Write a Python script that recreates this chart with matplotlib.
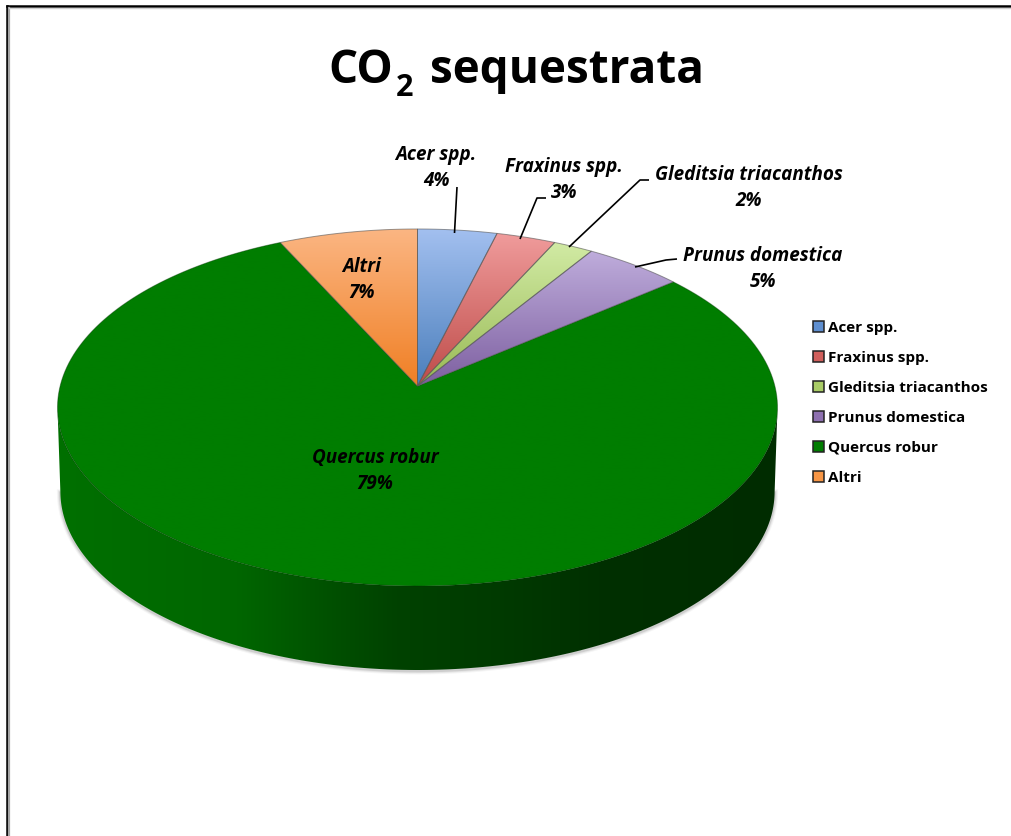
import numpy as np
import matplotlib
matplotlib.use('Agg')
import matplotlib.pyplot as plt
from matplotlib.colors import LinearSegmentedColormap
from matplotlib.patches import Polygon, Rectangle

plt.rcParams['font.family'] = ['Open Sans', 'DejaVu Sans']

# dati del grafico
species = ['Acer spp.', 'Fraxinus spp.', 'Gleditsia triacanthos',
           'Prunus domestica', 'Quercus robur', 'Altri']
percent = [4, 3, 2, 5, 79, 7]
wedge_light = ['#A3C0F0', '#F09C9C', '#D2EBA5', '#BFADDC', '#007D00', '#FBB683']
wedge_dark = ['#4A7EBB', '#BE4B48', '#98B954', '#7D5FA0', '#007D00', '#F07F24']
legend_colors = ['#5F8FD0', '#D05F5C', '#A9CC66', '#8E70B0', '#007D00', '#F79646']

W, H = 1012, 837
fig = plt.figure(figsize=(W / 100, H / 100), dpi=100, facecolor='white')
ax = fig.add_axes([0, 0, 1, 1])
ax.set_xlim(0, W)
ax.set_ylim(H, 0)
ax.axis('off')

# disco in prospettiva
CX, AY, TOP, BOT = 417.5, 387.0, 230.0, 587.0
DEPTH = 84.0
C = (TOP + BOT - 2 * AY) / (BOT - TOP)
A = TOP * (1 + C) - AY
RX = 360.0 * np.sqrt(1 - C ** 2)


def project(theta):
    den = 1 + C * np.cos(theta)
    return CX + RX * np.sin(theta) / den, (A * np.cos(theta) + AY) / den


def wedge_path(t0, t1):
    t = np.linspace(t0, t1, 200)
    x, y = project(t)
    return np.r_[CX, x], np.r_[AY, y]


def fill_gradient(xs, ys, cmap, horizontal=False, z=2, edge='#55555599'):
    # gradiente ritagliato sul poligono
    ext = [xs.min() - 1, xs.max() + 1, ys.max() + 1, ys.min() - 1]
    grad = np.linspace(0, 1, 256)
    grad = grad[None, :] if horizontal else grad[:, None]
    im = ax.imshow(grad, extent=ext, cmap=cmap, vmin=0, vmax=1, aspect='auto',
                   zorder=z, interpolation='bilinear')
    clip = Polygon(np.c_[xs, ys], closed=True, transform=ax.transData)
    im.set_clip_path(clip)
    if edge:
        ax.add_patch(Polygon(np.c_[xs, ys], closed=True, fill=False, ec=edge,
                             lw=0.7, zorder=z + 0.5))


# fianco del cilindro
tt = np.linspace(-np.pi, np.pi, 721)
top_x, top_y = project(tt)
left_i, right_i = np.argmin(top_x), np.argmax(top_x)
side_t = np.linspace(tt[left_i], tt[left_i] - (2 * np.pi - (tt[right_i] - tt[left_i])), 400)
sx, sy = project(side_t)
scale = 0.992
bx = CX + (sx - CX) * scale
by = sy + DEPTH
wall_x = np.r_[sx, bx[::-1]]
wall_y = np.r_[sy, by[::-1]]

# ombra morbida sotto il fianco
for lw, alpha in [(5, 0.04), (3.5, 0.06), (2, 0.10)]:
    ax.plot(bx, by + 1, color='black', lw=lw, alpha=alpha, zorder=0.5)

wall_cmap = LinearSegmentedColormap.from_list(
    'wall', [(0, '#007000'), (0.25, '#006600'), (0.38, '#005000'), (0.47, '#004200'),
             (0.62, '#003A00'), (0.75, '#003000'), (1, '#002C00')])
fill_gradient(wall_x, wall_y, wall_cmap, horizontal=True, z=1, edge=None)

# spicchi
edges = np.cumsum([0] + percent) / sum(percent) * 2 * np.pi
for i, name in enumerate(species):
    xs, ys = wedge_path(edges[i], edges[i + 1])
    cmap = LinearSegmentedColormap.from_list(name, [wedge_light[i], wedge_dark[i]])
    big = name == 'Quercus robur'
    fill_gradient(xs, ys, cmap, z=2 if big else 3, edge='#00300066' if big else '#55555599')

ax.set_xlim(0, W)
ax.set_ylim(H, 0)

# cornice
ax.plot([7, 7], [7, H + 5], color='black', lw=1.8, zorder=6)
ax.plot([7, W + 5], [7, 7], color='black', lw=1.8, zorder=6)
ax.plot([9, 9], [9, H + 5], color='#A6A6A6', lw=1.6, zorder=6)
ax.plot([9, W + 5], [8.6, 8.6], color='#D0D0D0', lw=1, zorder=6)

# titolo
title_kw = dict(fontweight='bold', color='black', va='baseline', ha='left', zorder=7)
ax.text(328, 83, 'CO', fontsize=33, **title_kw)
ax.text(396, 96, '2', fontsize=22, **title_kw)
ax.text(430, 83, 'sequestrata', fontsize=33, **title_kw)

# etichette degli spicchi
label_pos = [(436, 168), (564, 180), (749, 188), (763, 269), (375, 471), (362, 280)]
for name, p, (lx, ly) in zip(species, percent, label_pos):
    ax.text(lx, ly, f'{name}\n{p}%', fontsize=13.6, fontweight='bold', style='italic',
            ha='center', va='center', linespacing=1.38, color='black', zorder=7)

# linee guida
leaders = [([457, 454.5], [188, 234]),
           ([546, 537, 520], [199, 199, 240]),
           ([649, 640, 569], [181, 181, 248]),
           ([677, 666, 635], [260, 261, 268])]
for lx, ly in leaders:
    ax.plot(lx, ly, color='black', lw=1.2, zorder=6, solid_capstyle='butt')

# legenda
leg_y = [328, 358, 388, 418, 448, 478]
for name, col, y in zip(species, legend_colors, leg_y):
    ax.add_patch(Rectangle((813, y - 6), 11, 11, fc=col, ec='#222222', lw=1.1, zorder=7))
    ax.text(828, y, name, fontsize=11, fontweight='bold', ha='left', va='center',
            color='black', zorder=7)

fig.savefig('out.png', dpi=100)
